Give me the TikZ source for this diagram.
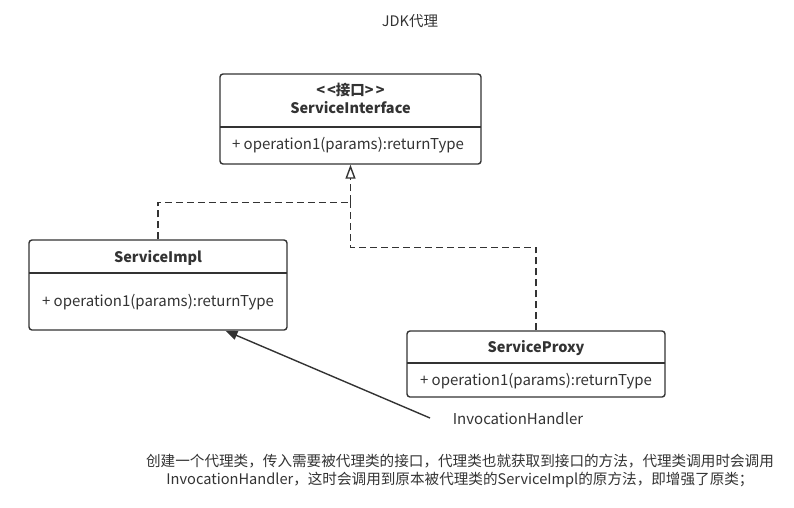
\documentclass[tikz,border=0pt]{standalone}
\usepackage{fontspec}
\setmainfont{Noto Sans CJK SC}
\usetikzlibrary{arrows.meta,calc}
\definecolor{ln}{HTML}{333333}
\tikzset{
  box/.style={draw=ln, line width=1.4pt, rounded corners=3pt, inner sep=0pt},
  divline/.style={draw=ln, line width=1.2pt},
  txt/.style={font=\fontsize{15pt}{18pt}\selectfont, text=ln, inner sep=0pt},
  btxt/.style={font=\fontsize{14.5pt}{17pt}\selectfont\bfseries, text=ln, inner sep=0pt},
  realize/.style={draw=ln, line width=1.4pt, dash pattern=on 7pt off 4pt},
  assoc/.style={draw=ln, line width=1.4pt, -{Triangle[length=12pt,width=9pt]}},
}
\begin{document}
\begin{tikzpicture}[x=1pt,y=-1pt]
\useasboundingbox (0,0) rectangle (794,507);
% title
\node[txt, font=\fontsize{14.5pt}{17pt}\selectfont] (title) at (410,21) {JDK代理};
% interface
\node[box, minimum width=261pt, minimum height=90pt] (iface) at (350.5,119) {};
\node[btxt] (ifst) at (350.5,90) {{<}\kern2pt{<}接口{>}\kern2pt{>}};
\node[btxt] (ifname) at (350.5,108) {ServiceInterface};
\draw[divline] (220,127) -- (481,127);
\node[txt] (ifop) at (348,145) {+ operation1(params):returnType};
% impl
\node[box, minimum width=258pt, minimum height=90pt] (impl) at (158,285) {};
\node[btxt] (implname) at (158,258) {ServiceImpl};
\draw[divline] (29,273) -- (287,273);
\node[txt] (implop) at (158,302) {+ operation1(params):returnType};
% proxy
\node[box, minimum width=258pt, minimum height=66pt] (proxy) at (536,364) {};
\node[btxt] (proxyname) at (536,348) {ServiceProxy};
\draw[divline] (407,363) -- (665,363);
\node[txt] (proxyop) at (536,381) {+ operation1(params):returnType};
% connectors
\coordinate (j1) at ($(iface.south)+(0,37.5)$);
\coordinate (j2) at ($(iface.south)+(0,83)$);
\draw[realize] (impl.north) |- (j1);
\draw[realize] (proxy.north) |- (j2) -- (j1);
\draw[realize, -{Triangle[open,length=14pt,width=10pt]}, dash pattern=] ($(iface.south)+(0,14)$) -- (iface.south);
\draw[realize] (j1) -- ($(iface.south)+(0,14)$);
% invocation handler
\node[txt] (ih) at (518,419) {InvocationHandler};
\coordinate (ihs) at (430,418);
\coordinate (impltip) at ($(impl.south east)!0.24!(impl.south west)$);
\draw[assoc] (ihs) -- (impltip);
% note
\node[txt, align=center, font=\fontsize{14.6pt}{18pt}\selectfont] (note) at (460,471) {创建一个代理类，传入需要被代理类的接口，代理类也就获取到接口的方法，代理类调用时会调用\\InvocationHandler，这时会调用到原本被代理类的ServiceImpl的原方法，即增强了原类；};
\end{tikzpicture}
\end{document}
